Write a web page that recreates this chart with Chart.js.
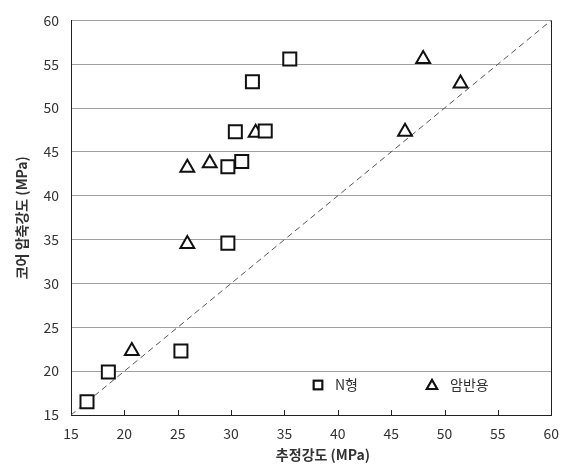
<!DOCTYPE html>
<html>
<head>
<meta charset="utf-8">
<script src="https://cdn.jsdelivr.net/npm/chart.js@4/dist/chart.umd.min.js"></script>
<style>
    body { margin: 0; background: #fff; }
    #wrap { width: 569px; height: 468px; position: relative; }
</style>
</head>
<body>
<div id="wrap"><canvas id="chart"></canvas></div>
<script>
// Données
const nX = [16.5, 18.5, 25.3, 29.7, 29.7, 31.0, 30.4, 33.2, 32.0, 35.5];
const nY = [16.5, 19.9, 22.3, 34.6, 43.3, 43.9, 47.3, 47.4, 53.0, 55.6];
const rX = [20.7, 25.9, 25.9, 28.0, 32.3, 46.3, 51.5, 48.0];
const rY = [22.3, 34.5, 43.2, 43.7, 47.2, 47.3, 52.8, 55.6];
const lineX = [15, 60];
const lineY = [15, 60];
const seriesNames = ['N형', '암반용'];
const xTitle = '추정강도 (MPa)';
const yTitle = '코어 압축강도 (MPa)';

const toPoints = (xs, ys) => xs.map((x, i) => ({ x: x, y: ys[i] }));

const fontFamily = '"Noto Sans CJK KR", "Noto Sans", sans-serif';

// Ticks intérieurs, bordure droite, titre X et légende dans la zone du graphique
const extras = {
    id: 'extras',
    afterDraw(chart) {
        const ctx = chart.ctx;
        const area = chart.chartArea;
        const xs = chart.scales.x;
        ctx.save();
        ctx.strokeStyle = '#222';
        ctx.lineWidth = 1;
        ctx.beginPath();
        for (let v = 20; v <= 55; v += 5) {
            const px = Math.round(xs.getPixelForValue(v)) + 0.5;
            ctx.moveTo(px, area.bottom);
            ctx.lineTo(px, area.bottom - 5);
        }
        ctx.moveTo(Math.round(area.right) + 0.5, area.top);
        ctx.lineTo(Math.round(area.right) + 0.5, area.bottom);
        ctx.stroke();

        // titre de l'axe X
        ctx.fillStyle = '#333';
        ctx.font = 'bold 14px ' + fontFamily;
        ctx.textAlign = 'center';
        ctx.textBaseline = 'middle';
        ctx.fillText(xTitle, 323, 455);

        // légende
        const ly = area.bottom - 30;
        ctx.lineWidth = 2;
        ctx.strokeStyle = '#111';
        ctx.fillStyle = '#fff';
        Chart.helpers.drawPoint(ctx, { pointStyle: 'rect', radius: 6, borderWidth: 2 }, 318, ly);
        ctx.fill();
        ctx.stroke();
        Chart.helpers.drawPoint(ctx, { pointStyle: 'triangle', radius: 6, borderWidth: 2 }, 432, ly + 1);
        ctx.fill();
        ctx.stroke();
        ctx.fillStyle = '#333';
        ctx.font = '14px ' + fontFamily;
        ctx.textAlign = 'left';
        ctx.fillText(seriesNames[0], 335, ly);
        ctx.fillText(seriesNames[1], 450, ly);
        ctx.restore();
    }
};

new Chart(document.getElementById('chart'), {
    type: 'scatter',
    data: {
        datasets: [
            {
                label: seriesNames[0],
                data: toPoints(nX, nY),
                pointStyle: 'rect',
                pointRadius: 9.2,
                pointHoverRadius: 9.2,
                borderColor: '#111',
                backgroundColor: '#fff',
                borderWidth: 2
            },
            {
                label: seriesNames[1],
                data: toPoints(rX, rY),
                pointStyle: 'triangle',
                pointRadius: 8,
                pointHoverRadius: 8,
                borderColor: '#111',
                backgroundColor: '#fff',
                borderWidth: 2
            },
            {
                label: '1:1',
                data: toPoints(lineX, lineY),
                showLine: true,
                pointRadius: 0,
                borderColor: '#555',
                borderWidth: 1,
                borderDash: [6, 4]
            }
        ]
    },
    options: {
        responsive: true,
        maintainAspectRatio: false,
        animation: false,
        layout: { padding: { top: 15, right: 16, left: 0, bottom: 0 } },
        plugins: {
            legend: { display: false },
            tooltip: { enabled: false }
        },
        scales: {
            x: {
                min: 15,
                max: 60,
                ticks: {
                    stepSize: 5,
                    padding: 10,
                    color: '#333',
                    font: { family: fontFamily, size: 14 }
                },
                grid: { display: false, drawTicks: false },
                border: { display: true, color: '#222', width: 1 },
                title: { display: false },
                afterFit: (scale) => { scale.height = 53; }
            },
            y: {
                min: 15,
                max: 60,
                ticks: {
                    stepSize: 5,
                    padding: 12,
                    color: '#333',
                    font: { family: fontFamily, size: 14 }
                },
                grid: { color: '#a0a0a0', lineWidth: 1, drawTicks: false },
                border: { display: true, color: '#222', width: 1 },
                title: {
                    display: true,
                    text: yTitle,
                    color: '#333',
                    font: { family: fontFamily, size: 14, weight: 'bold' },
                    padding: { top: 13, bottom: 0 }
                },
                afterFit: (scale) => { scale.width = 71; }
            }
        }
    },
    plugins: [extras]
});
</script>
</body>
</html>
